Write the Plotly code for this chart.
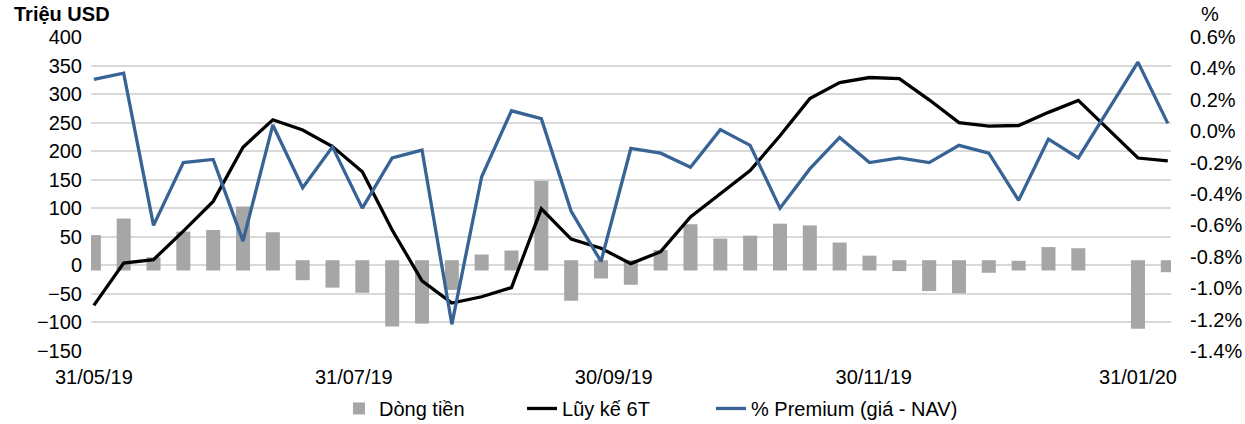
import plotly.graph_objects as go

# Weekly dates (24/01/2020 missing – Tet holiday)
dates = [
    "2019-05-31", "2019-06-07", "2019-06-14", "2019-06-21", "2019-06-28",
    "2019-07-05", "2019-07-12", "2019-07-19", "2019-07-26", "2019-08-02",
    "2019-08-09", "2019-08-16", "2019-08-23", "2019-08-30", "2019-09-06",
    "2019-09-13", "2019-09-20", "2019-09-27", "2019-10-04", "2019-10-11",
    "2019-10-18", "2019-10-25", "2019-11-01", "2019-11-08", "2019-11-15",
    "2019-11-22", "2019-11-29", "2019-12-06", "2019-12-13", "2019-12-20",
    "2019-12-27", "2020-01-03", "2020-01-10", "2020-01-17", "2020-01-31",
    "2020-02-07",
]

# Dòng tiền (million USD)
flows = [53, 82, 14, 59, 62, 103, 58, -26, -39, -48, -107, -102, -43, 19, 26,
         148, -62, -23, -34, 27, 72, 47, 52, 73, 70, 40, 17, -10, -45, -49,
         -13, 8, 32, 30, -111, -12]

# Lũy kế 6T (million USD)
cumulative = [-70, 4, 10, 60, 112, 207, 255, 237, 208, 164, 62, -27, -66, -55,
              -39, 99, 46, 30, 3, 24, 85, 126, 166, 227, 292, 320, 329, 327,
              290, 250, 244, 245, 268, 289, 188, 183]

# % Premium (giá - NAV)
premium = [0.33, 0.37, -0.60, -0.20, -0.18, -0.70, 0.04, -0.36, -0.10, -0.49,
           -0.17, -0.12, -1.23, -0.29, 0.13, 0.08, -0.51, -0.83, -0.11, -0.14,
           -0.23, 0.01, -0.09, -0.49, -0.24, -0.04, -0.20, -0.17, -0.20, -0.09,
           -0.14, -0.44, -0.05, -0.17, 0.44, 0.05]

x_tick_dates = ["2019-05-31", "2019-07-31", "2019-09-30", "2019-11-30", "2020-01-31"]
x_tick_labels = ["31/05/19", "31/07/19", "30/09/19", "30/11/19", "31/01/20"]
left_ticks = [400, 350, 300, 250, 200, 150, 100, 50, 0, -50, -100, -150]
right_ticks = [0.6, 0.4, 0.2, 0.0, -0.2, -0.4, -0.6, -0.8, -1.0, -1.2, -1.4]
right_labels = ["0.6%", "0.4%", "0.2%", "0.0%", "-0.2%", "-0.4%", "-0.6%",
                "-0.8%", "-1.0%", "-1.2%", "-1.4%"]

FONT = "Liberation Sans, Arial, sans-serif"
FS = 20

# bars in the reference start slightly across the zero line
bar_base = [-9 if v >= 0 else 9 for v in flows]
bar_len = [v - b for v, b in zip(flows, bar_base)]

fig = go.Figure()
fig.add_trace(go.Bar(
    x=dates, y=bar_len, base=bar_base, name="Dòng tiền",
    marker=dict(color="#A6A6A6", line=dict(width=0)),
    customdata=flows, hovertemplate="%{customdata}<extra></extra>",
    legend="legend",
))
fig.add_trace(go.Scatter(
    x=dates, y=cumulative, name="Lũy kế 6T", mode="lines",
    line=dict(color="#000000", width=3.3), legend="legend2",
))
fig.add_trace(go.Scatter(
    x=dates, y=premium, name="% Premium (giá - NAV)", mode="lines",
    line=dict(color="#376395", width=3.3), yaxis="y2", legend="legend3",
))


def legend_at(xp):
    return dict(orientation="h", x=xp, xanchor="left", y=-0.183,
                yanchor="middle", font=dict(size=FS),
                bgcolor="rgba(0,0,0,0)")


fig.update_layout(
    width=1245, height=424,
    margin=dict(l=91, r=74, t=37, b=73, autoexpand=False),
    paper_bgcolor="white", plot_bgcolor="white",
    font=dict(family=FONT, size=FS, color="#000000"),
    bargap=0.53,
    showlegend=True,
    legend=legend_at(0.2296),
    legend2=legend_at(0.3991),
    legend3=legend_at(0.5741),
    xaxis=dict(
        type="date",
        range=["2019-05-30 08:00", "2020-02-07 18:00"],
        tickvals=x_tick_dates, ticktext=x_tick_labels,
        showgrid=False, zeroline=False, showline=False, ticks="",
        ticklabelstandoff=12,
    ),
    yaxis=dict(
        range=[-150, 400], tickvals=left_ticks,
        showgrid=True, gridcolor="#D9D9D9", gridwidth=1.5,
        zeroline=False, showline=False, ticks="",
        ticklabelstandoff=8,
    ),
    yaxis2=dict(
        range=[-1.4, 0.6], overlaying="y", side="right",
        tickvals=right_ticks, ticktext=right_labels,
        showgrid=False, zeroline=False, showline=False, ticks="",
        ticklabelstandoff=18,
    ),
    annotations=[
        dict(text="<b>Triệu USD</b>", xref="paper", yref="paper",
             x=-0.073, y=1.074, xanchor="left", yanchor="middle",
             showarrow=False, font=dict(size=FS)),
        dict(text="%", xref="paper", yref="paper",
             x=1.0364, y=1.074, xanchor="center", yanchor="middle",
             showarrow=False, font=dict(size=FS)),
    ],
)

fig.write_html(
    "out.html",
    config={"displayModeBar": False},
    post_script="document.body.style.margin='0px';"
                "document.body.style.overflow='hidden';",
)
